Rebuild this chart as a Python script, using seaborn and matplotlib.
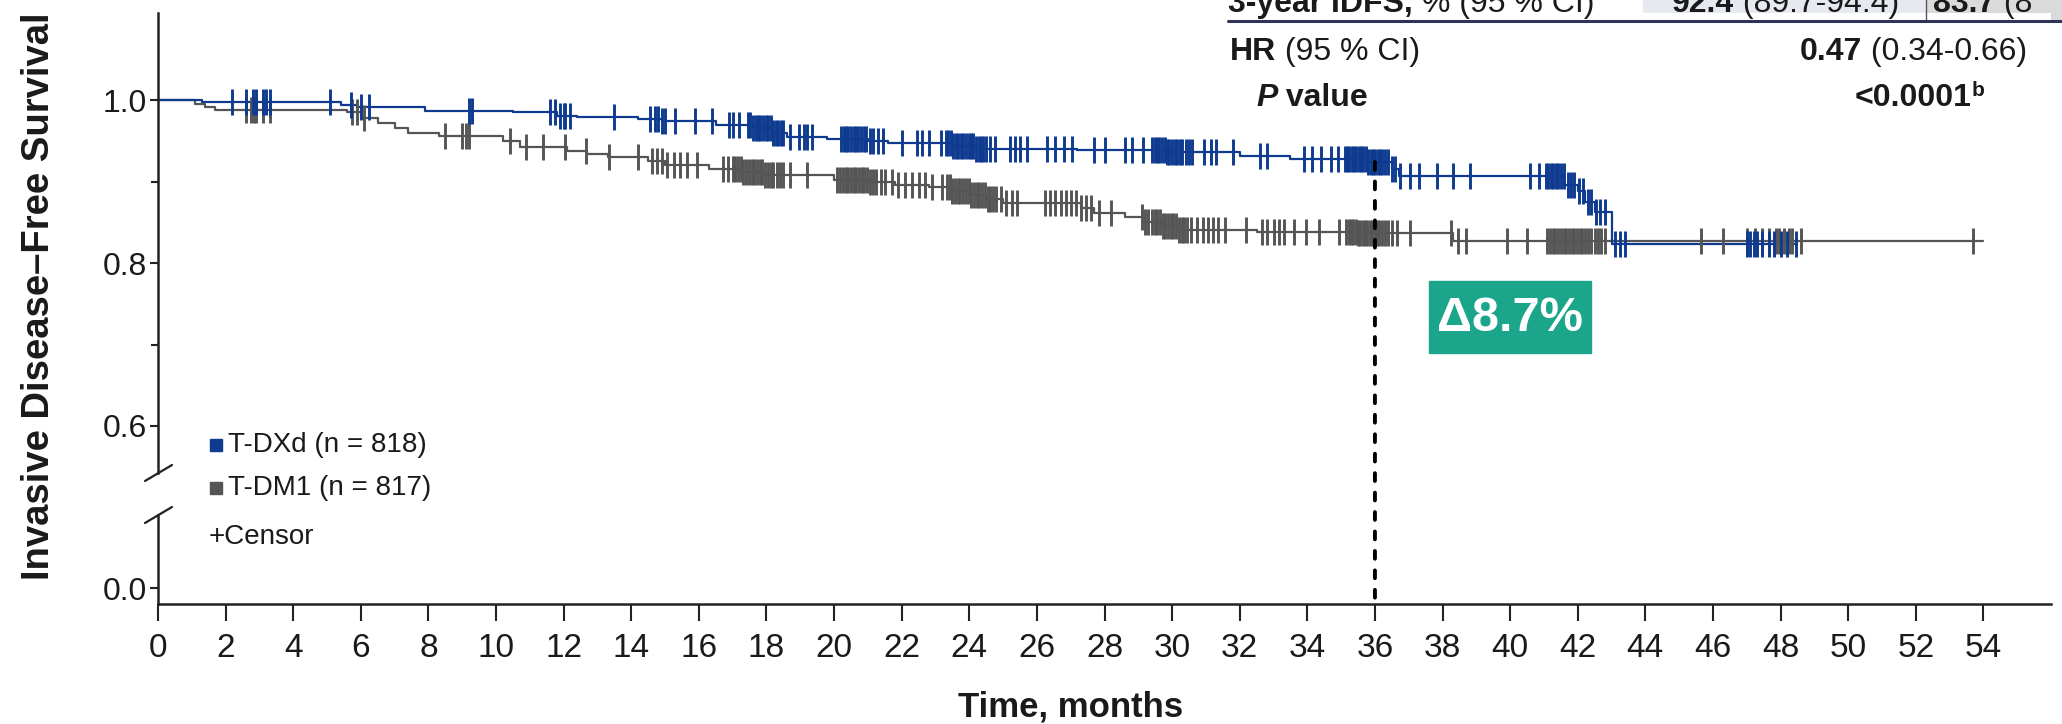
import numpy as np
import matplotlib
matplotlib.use("Agg")
import matplotlib.pyplot as plt
from matplotlib.lines import Line2D
from matplotlib.patches import Rectangle, ConnectionPatch
import seaborn as sns

# T-DXd arm: step times (months) and survival after each step
tdxd_time = [0, 1.3, 5.4, 5.9, 7.9, 10.5, 11.8, 12.4, 14.2, 14.9, 16.5, 17.6, 18.2,
             18.6, 19.8, 21.0, 21.6, 23.5, 24.2, 27.2, 29.8, 32.0, 33.5, 35.8, 36.5,
             36.7, 41.6, 42.0, 42.2, 42.5, 43.0, 48.5]
tdxd_surv = [1.000, 0.998, 0.994, 0.991, 0.987, 0.985, 0.981, 0.979, 0.977, 0.974,
             0.970, 0.966, 0.960, 0.955, 0.952, 0.950, 0.947, 0.944, 0.940, 0.939,
             0.936, 0.931, 0.928, 0.924, 0.915, 0.907, 0.896, 0.888, 0.875, 0.863,
             0.823, 0.823]

# T-DM1 arm
tdm1_time = [0, 1.1, 1.4, 1.7, 5.6, 6.0, 6.5, 7.0, 7.4, 8.3, 10.2, 10.7, 12.1, 12.7,
             13.3, 14.5, 15.0, 16.3, 17.3, 17.9, 20.0, 21.0, 21.8, 22.8, 23.5, 24.0,
             24.5, 25.0, 27.3, 27.7, 28.6, 29.2, 29.7, 30.2, 32.5, 35.5, 38.3, 54.0]
tdm1_surv = [1.000, 0.995, 0.991, 0.988, 0.985, 0.978, 0.972, 0.966, 0.960, 0.956,
             0.950, 0.943, 0.937, 0.934, 0.930, 0.925, 0.920, 0.916, 0.912, 0.908,
             0.902, 0.899, 0.896, 0.893, 0.889, 0.884, 0.879, 0.874, 0.868, 0.862,
             0.856, 0.850, 0.845, 0.840, 0.838, 0.837, 0.827, 0.827]

# censoring times (months)
tdxd_censor = [
    2.2, 2.6, 2.8, 2.9, 3.1, 3.2, 3.3, 5.1, 5.7, 6.0, 6.25, 9.2, 9.3,
    11.6, 11.75, 11.9, 12.0, 12.05, 12.2, 13.5, 14.55, 14.7, 14.8, 14.9, 15.0, 15.3,
    15.9, 16.4, 16.9, 17.0, 17.2,
    17.45, 17.52, 17.6, 17.68, 17.75, 17.82, 17.9, 17.98, 18.05, 18.12, 18.2, 18.28,
    18.35, 18.42, 18.5, 18.7, 18.95, 19.1, 19.2, 19.35,
    20.2, 20.28, 20.35, 20.42, 20.5, 20.58, 20.65, 20.72, 20.8, 20.88, 20.95, 21.05,
    21.15, 21.3, 21.45, 22.0, 22.45, 22.6, 22.8, 23.15,
    23.3, 23.38, 23.45, 23.52, 23.6, 23.68, 23.75, 23.82, 23.9, 23.98, 24.05, 24.12,
    24.2, 24.28, 24.35, 24.42, 24.5, 24.6, 24.75,
    25.2, 25.35, 25.5, 25.7, 26.3, 26.55, 26.8, 27.05, 27.7, 28.0, 28.6, 28.8, 29.15,
    29.4, 29.48, 29.55, 29.62, 29.7, 29.78, 29.85, 29.92, 30.0, 30.08, 30.15, 30.22,
    30.3, 30.4, 30.5, 30.6,
    30.95, 31.15, 31.3, 31.8, 32.6, 32.8, 33.9, 34.15, 34.4, 34.7, 34.9,
    35.1, 35.17, 35.24, 35.31, 35.38, 35.45, 35.52, 35.59, 35.66, 35.73, 35.8, 35.87,
    35.94, 36.01, 36.08, 36.15, 36.22, 36.3, 36.4, 36.5,
    36.6, 36.75, 37.05, 37.3, 37.85, 38.3, 38.8, 40.6, 40.85,
    41.05, 41.12, 41.2, 41.28, 41.35, 41.42, 41.5, 41.58,
    41.7, 41.8, 41.9, 42.05, 42.15, 42.3, 42.4, 42.55, 42.65, 42.8,
    43.1, 43.25, 43.4,
    47.0, 47.1, 47.2, 47.3, 47.45, 47.65, 47.8, 48.0, 48.2, 48.45,
]
tdm1_censor = [
    2.6, 2.75, 2.85, 2.9, 3.1, 3.3, 5.75, 5.9, 6.1, 8.5, 9.0, 9.1, 9.2,
    10.4, 10.9, 11.4, 12.05, 12.65, 13.35, 14.2,
    14.6, 14.75, 14.9, 15.05, 15.25, 15.45, 15.65, 15.95, 16.7, 16.85,
    17.0, 17.08, 17.16, 17.24, 17.32, 17.4, 17.48, 17.56, 17.64, 17.72, 17.8, 17.88,
    17.96, 18.04, 18.12, 18.2, 18.3, 18.4, 18.5, 18.7, 19.2,
    20.1, 20.18, 20.26, 20.34, 20.42, 20.5, 20.58, 20.66, 20.74, 20.82, 20.9, 20.98,
    21.06, 21.15, 21.25, 21.4,
    21.5, 21.7, 21.9, 22.1, 22.3, 22.5, 22.7, 22.9, 23.2,
    23.35, 23.42, 23.5, 23.58, 23.66, 23.74, 23.82, 23.9, 23.98, 24.06, 24.14, 24.22,
    24.3, 24.38, 24.46, 24.54, 24.62, 24.7, 24.8, 24.95,
    25.1, 25.25, 25.4,
    26.25, 26.4, 26.55, 26.7, 26.85, 27.0, 27.15, 27.3, 27.45, 27.6, 27.85, 28.2,
    29.1, 29.2, 29.3,
    29.4, 29.48, 29.56, 29.64, 29.72, 29.8, 29.88, 29.96, 30.04, 30.12, 30.2, 30.28,
    30.36, 30.45, 30.55,
    30.75, 30.9, 31.05, 31.2, 31.35, 31.55, 32.2, 32.65, 32.8, 33.0, 33.15, 33.3,
    33.6, 33.95, 34.35, 34.95,
    35.15, 35.22, 35.29, 35.36, 35.43, 35.5, 35.57, 35.64, 35.71, 35.78, 35.85, 35.92,
    35.99, 36.06, 36.13, 36.2, 36.3, 36.4, 36.5, 36.65,
    37.05, 38.25, 38.45, 38.7, 39.9, 40.5,
    41.1, 41.18, 41.26, 41.34, 41.42, 41.5, 41.58, 41.66, 41.74, 41.82, 41.9, 41.98,
    42.06, 42.14, 42.22, 42.3, 42.4, 42.5, 42.6, 42.7, 42.8,
    45.65, 46.3,
    47.0, 47.25, 47.45, 47.65, 47.85, 47.95, 48.1, 48.25, 48.35, 48.6,
    53.7,
]

arm_labels = ["T-DXd (n = 818)", "T-DM1 (n = 817)"]
landmark = 36
delta_text = "\u03948.7%"
x_ticks = list(range(0, 56, 2))

BLUE = "#0E3A8F"
GRAY = "#555555"
INK = "#1A1A1A"
TEAL = "#1BA58A"

W, H = 2062, 724


def fx(px):
    return px / W


def fy(py):
    return 1 - py / H


def surv_at(times, surv, t):
    idx = np.searchsorted(times, t, side="right") - 1
    return np.asarray(surv)[idx]


sns.set_style("ticks")
plt.rcParams["font.family"] = ["Liberation Sans", "DejaVu Sans"]

fig = plt.figure(figsize=(W / 100, H / 100), dpi=100)
ax = fig.add_axes([fx(158), fy(473), fx(2051) - fx(158), (473 - 13) / H])
axb = fig.add_axes([fx(158), fy(604), fx(2051) - fx(158), (604 - 515) / H], sharex=ax)

for times, surv, cens, color in [
    (tdm1_time, tdm1_surv, tdm1_censor, GRAY),
    (tdxd_time, tdxd_surv, tdxd_censor, BLUE),
]:
    sns.lineplot(x=times, y=surv, drawstyle="steps-post", color=color,
                 linewidth=1.6, estimator=None, sort=False, ax=ax)
    cy = surv_at(times, surv, np.array(cens))
    sns.scatterplot(x=cens, y=cy, marker="|", s=340, color=color,
                    linewidth=2.1, ax=ax, zorder=3)

ax.set_xlim(0, 56)
ax.set_ylim(0.5423, 1.107)
axb.set_ylim(-0.0196, 0.0896)

ax.set_yticks([0.6, 0.8, 1.0])
ax.set_yticklabels(["0.6", "0.8", "1.0"])
ax.set_yticks([0.7, 0.9], minor=True)
axb.set_yticks([0.0])
axb.set_yticklabels(["0.0"])
axb.set_xticks(x_ticks)
axb.set_xticklabels([str(t) for t in x_ticks])

for a in (ax, axb):
    a.spines["right"].set_visible(False)
    a.spines["top"].set_visible(False)
    for s in a.spines.values():
        s.set_linewidth(1.8)
        s.set_color("#222222")
    a.tick_params(axis="y", length=6, width=1.5, labelsize=23, pad=2,
                  colors="#222222", labelcolor=INK)
    a.set_xlabel("")
    a.set_ylabel("")
ax.tick_params(axis="y", which="minor", length=5, width=1.5, colors="#222222")
ax.spines["bottom"].set_visible(False)
ax.tick_params(axis="x", bottom=False, labelbottom=False)
axb.tick_params(axis="x", length=12, width=1.5, pad=9, labelsize=24,
                colors="#222222", labelcolor=INK)

# axis titles
fig.text(fx(39), fy(296), "Invasive Disease\u2013Free Survival", rotation=90,
         ha="center", va="center", fontsize=27.5, fontweight="bold", color=INK)
fig.text(fx(158) + (fx(2051) - fx(158)) * 27 / 56, fy(717), "Time, months",
         ha="center", va="baseline", fontsize=25, fontweight="bold", color=INK)

# axis break marks
for yb in (473, 515):
    fig.add_artist(Line2D([fx(145), fx(172)], [fy(yb + 8), fy(yb - 8)],
                          transform=fig.transFigure, color="#222222", lw=1.6))

# landmark line at 36 months
s36 = surv_at(tdxd_time, tdxd_surv, landmark)
con = ConnectionPatch(xyA=(landmark, s36), coordsA=ax.transData,
                      xyB=(landmark, axb.get_ylim()[0]), coordsB=axb.transData,
                      color="black", lw=2.8, linestyle=(0, (2.0, 3.0)), zorder=5)
fig.add_artist(con)

# delta box
fig.add_artist(Rectangle((fx(1429), fy(353)), (1591 - 1429) / W, (353 - 281) / H,
                         transform=fig.transFigure, color=TEAL, zorder=4))
fig.text(fx(1510), fy(318), delta_text, ha="center", va="center", fontsize=35,
         fontweight="bold", color="white", zorder=5)

# legend
for i, (lab, col) in enumerate(zip(arm_labels, [BLUE, GRAY])):
    yc = [445, 488][i]
    fig.add_artist(Rectangle((fx(210), fy(yc + 6)), 12 / W, 12 / H,
                             transform=fig.transFigure, color=col))
    fig.text(fx(228), fy(yc), lab, ha="left", va="center", fontsize=20, color=INK)
fig.text(fx(209), fy(537), "+Censor", ha="left", va="center", fontsize=20, color=INK)

# summary table (top right, cut at the figure edge)
fig.add_artist(Rectangle((fx(1643), fy(21)), (1925 - 1643) / W, 21 / H,
                         transform=fig.transFigure, color="#E7E9F1", zorder=0))
fig.add_artist(Rectangle((fx(1927), fy(21)), (W - 1927) / W, 21 / H,
                         transform=fig.transFigure, color="#DADADA", zorder=0))
fig.add_artist(Line2D([fx(1926), fx(1926)], [fy(0), fy(21)], transform=fig.transFigure,
                      color="#555566", lw=1.0))
fig.add_artist(Line2D([fx(1228), 1], [fy(21), fy(21)], transform=fig.transFigure,
                      color="#2F3358", lw=2.2))


def put_left(x, y, parts, size=23):
    prev = fig.text(x, y, parts[0][0], ha="left", va="baseline", fontsize=size,
                    fontweight=parts[0][1], style=parts[0][2], color=INK)
    for txt, weight, style in parts[1:]:
        prev = ax.annotate(txt, xy=(1, 0), xycoords=prev, ha="left", va="bottom",
                           fontsize=size, fontweight=weight, style=style, color=INK,
                           annotation_clip=False)
    return prev


def put_right(x, y, parts, size=23):
    last = fig.text(x, y, parts[-1][0], ha="right", va="baseline", fontsize=size,
                    fontweight=parts[-1][1], style=parts[-1][2], color=INK)
    nxt = last
    for txt, weight, style in reversed(parts[:-1]):
        nxt = ax.annotate(txt, xy=(0, 0), xycoords=nxt, ha="right", va="bottom",
                          fontsize=size, fontweight=weight, style=style, color=INK,
                          annotation_clip=False)
    return last


put_left(fx(1228), fy(12), [("3-year IDFS,", "bold", "normal"),
                            (" % (95 % CI)", "normal", "normal")])
put_left(fx(1672), fy(12), [("92.4", "bold", "normal"),
                            (" (89.7-94.4)", "normal", "normal")])
put_left(fx(1933), fy(12), [("83.7", "bold", "normal"), (" (8", "normal", "normal")])
put_left(fx(1230), fy(60), [("HR", "bold", "normal"), (" (95 % CI)", "normal", "normal")])
put_right(fx(2027), fy(60), [("0.47", "bold", "normal"),
                             (" (0.34-0.66)", "normal", "normal")])
put_left(fx(1256), fy(106), [("P", "bold", "italic"), (" value", "bold", "normal")])
pv = fig.text(fx(1972), fy(106), "<0.0001", ha="right", va="baseline", fontsize=23,
              fontweight="bold", color=INK)
ax.annotate("b", xy=(1, 0.45), xycoords=pv, ha="left", va="bottom", fontsize=15,
            fontweight="bold", color=INK, annotation_clip=False)

fig.savefig("out.png", dpi=100)
